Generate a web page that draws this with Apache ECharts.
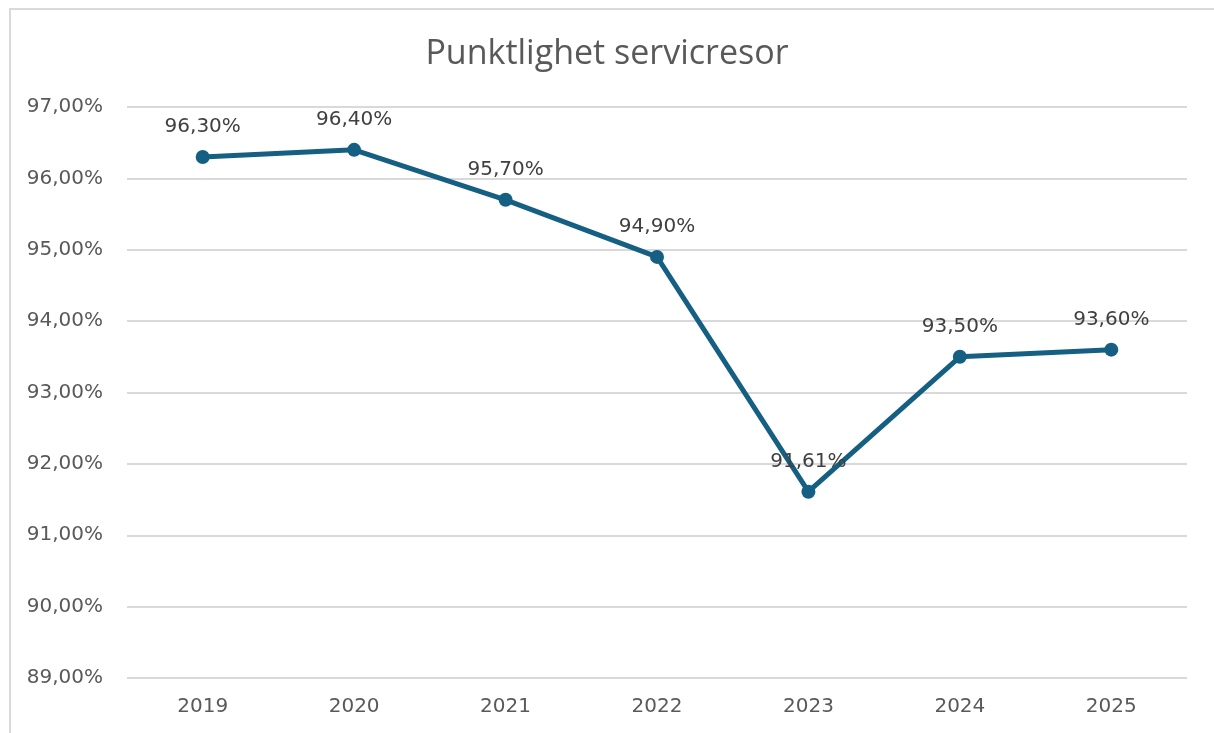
<!DOCTYPE html>
<html><head><meta charset="utf-8">
<script src="https://cdn.jsdelivr.net/npm/echarts@6/dist/echarts.min.js"></script>
<style>
html,body{margin:0;padding:0;background:#fff;overflow:hidden}
#frame{position:absolute;left:9px;top:8px;width:1210px;height:740px;border:2px solid #d9d9d9;box-sizing:border-box}
#c{position:absolute;left:0;top:0;width:1214px;height:733px}
</style></head>
<body>
<div id="frame"></div>
<div id="c"></div>
<script>
const categories = ['2019','2020','2021','2022','2023','2024','2025'];
const values = [96.30, 96.40, 95.70, 94.90, 91.61, 93.50, 93.60];
const yTicks = [89, 97, 1];
const fmt = v => v.toFixed(2).replace('.', ',') + '%';
const FONT = '"DejaVu Sans", sans-serif';
const chart = echarts.init(document.getElementById('c'));
chart.setOption({
  backgroundColor: 'transparent',
  animation: false,
  title: {text: 'Punktlighet servicresor', left: 'center', top: 32,
    textStyle: {fontFamily: '"Open Sans", sans-serif', fontSize: 34, fontWeight: 'normal', color: '#595959'}},
  grid: {left: 127, right: 27, top: 107, bottom: 55},
  xAxis: {type: 'category', data: categories, boundaryGap: true,
    axisLine: {show: false}, axisTick: {show: false},
    axisLabel: {color: '#595959', fontSize: 20, fontFamily: FONT, margin: 19}},
  yAxis: {type: 'value', min: yTicks[0], max: yTicks[1], interval: yTicks[2],
    axisLine: {show: false}, axisTick: {show: false},
    splitLine: {lineStyle: {color: '#d9d9d9', width: 2}},
    axisLabel: {color: '#595959', fontSize: 20, fontFamily: FONT, margin: 24, formatter: v => fmt(v)}},
  series: [{type: 'line', data: values, symbol: 'circle', symbolSize: 14,
    lineStyle: {color: '#156082', width: 5}, itemStyle: {color: '#156082'},
    label: {show: true, position: 'top', distance: 13, color: '#404040', fontSize: 20,
      fontFamily: FONT, formatter: p => fmt(p.value)}}]
});
</script>
</body></html>
